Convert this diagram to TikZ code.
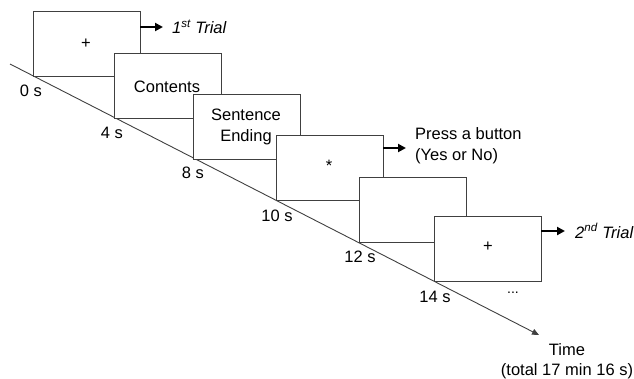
\documentclass[tikz,border=0pt]{standalone}
\usepackage{fontspec}
\setmainfont{Liberation Sans}
\usetikzlibrary{arrows.meta}
\begin{document}
\begin{tikzpicture}[x=1pt,y=-1pt,
  frame/.style={draw=black!75, line width=0.9pt, fill=white, minimum width=107pt, minimum height=65pt, anchor=north west, inner sep=0pt, outer sep=0pt},
  lbl/.style={font=\fontsize{16.5}{20.5}\selectfont, inner sep=0pt},
  dotslbl/.style={font=\fontsize{14}{16}\selectfont, inner sep=0pt},
  bigarrow/.style={line width=2pt, -{Triangle[length=8pt,width=8pt]}},
  timeline/.style={draw=black!75, line width=0.9pt, -{Triangle[length=7pt,width=6pt]}}]
\useasboundingbox (0,0) rectangle (634,378);
\coordinate (tstart) at (10,64);
\coordinate (tend) at (539,335);
\draw[timeline] (tstart) -- (tend);
% screens
\node[frame] (b1) at (33,11) {};
\node[frame] (b2) at (114,53) {};
\node[frame] (b3) at (193,94) {};
\node[frame] (b4) at (276,135) {};
\node[frame] (b5) at (359,177) {};
\node[frame] (b6) at (434,216) {};
% contents of screens
\node[lbl] (plus1) at (86,44) {+};
\node[lbl] (contents) at (167,87) {Contents};
\node[lbl, align=center] (sent) at (246,127) {Sentence\\Ending};
\node[lbl] (star) at (329,166) {*};
\node[lbl] (plus2) at (488,247) {+};
\node[dotslbl] (dots) at (513,293) {...};
% time labels
\node[lbl] (t0) at (31,91) {0 s};
\node[lbl] (t4) at (112,133) {4 s};
\node[lbl] (t8) at (193,173) {8 s};
\node[lbl] (t10) at (277,216) {10 s};
\node[lbl] (t12) at (360,257) {12 s};
\node[lbl] (t14) at (435,297) {14 s};
\node[lbl, align=center] (time) at (567,361) {Time\\(total 17 min 16 s)};
% side notes
\node[lbl, anchor=west, font=\fontsize{16.5}{20.5}\selectfont\itshape] (trial1) at (172,27) {1\textsuperscript{st} Trial};
\node[lbl, anchor=west, align=left] (press) at (415,145.5) {Press a button\\(Yes or No)};
\node[lbl, anchor=west, font=\fontsize{16.5}{20.5}\selectfont\itshape] (trial2) at (575,231) {2\textsuperscript{nd} Trial};
\draw[bigarrow] (b1.east |- trial1.west) -- ([xshift=-9pt]trial1.west);
\draw[bigarrow] (b4.east |- 0,148) coordinate (pa) -- (406,148) coordinate (pb);
\draw[bigarrow] (b6.east |- trial2.west) -- ([xshift=-10pt]trial2.west);
\end{tikzpicture}
\end{document}
